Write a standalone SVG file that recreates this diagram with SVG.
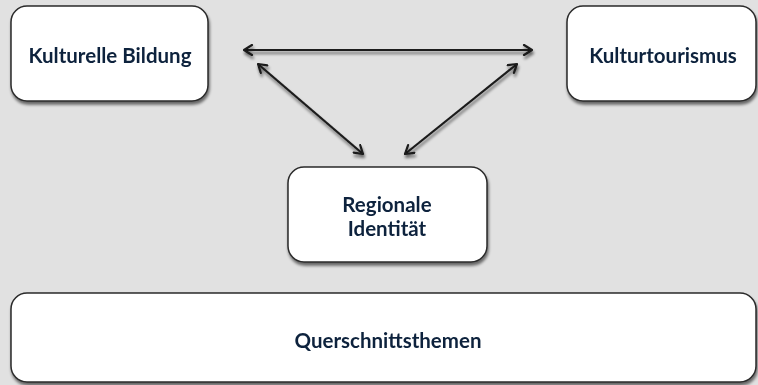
<svg xmlns="http://www.w3.org/2000/svg" width="758" height="385" viewBox="0 0 758 385">
<defs>
<filter id="sh" x="-10%" y="-10%" width="120%" height="130%">
<feGaussianBlur in="SourceAlpha" stdDeviation="1.5"/>
<feOffset dx="1" dy="2.5" result="b"/>
<feComponentTransfer><feFuncA type="linear" slope="0.55"/></feComponentTransfer>
<feMerge><feMergeNode/><feMergeNode in="SourceGraphic"/></feMerge>
</filter>
<marker id="ah" viewBox="0 0 12 12" refX="11" refY="6" markerWidth="12" markerHeight="12" markerUnits="userSpaceOnUse" orient="auto-start-reverse">
<path d="M3,1 L11,6 L3,11" fill="none" stroke="#1a1a1a" stroke-width="2.2" stroke-linecap="round" stroke-linejoin="round"/>
</marker>
</defs>
<style>
.box{fill:#ffffff;stroke:#2a2a2a;stroke-width:1.5}
.lbl{font-family:Lato,"Open Sans","Liberation Sans",sans-serif;font-weight:bold;font-size:20.5px;fill:#0f243e;text-anchor:middle}
.con{stroke:#1a1a1a;stroke-width:2.2;fill:none;marker-start:url(#ah);marker-end:url(#ah)}
</style>
<rect width="758" height="385" fill="#e1e1e1"/>
<g id="kulturelle-bildung" filter="url(#sh)">
<rect class="box" x="11" y="6" width="197" height="95" rx="16"/>
<text class="lbl" x="110" y="63">Kulturelle Bildung</text>
</g>
<g id="kulturtourismus" filter="url(#sh)">
<rect class="box" x="567" y="6" width="189" height="95" rx="16"/>
<text class="lbl" x="663" y="63">Kulturtourismus</text>
</g>
<g id="regionale-identitaet" filter="url(#sh)">
<rect class="box" x="288" y="167" width="199" height="95" rx="16"/>
<text class="lbl" x="387" y="212">Regionale</text>
<text class="lbl" x="387" y="236">Identität</text>
</g>
<g id="querschnittsthemen" filter="url(#sh)">
<rect class="box" x="11" y="293" width="745" height="89" rx="16"/>
<text class="lbl" x="388" y="348">Querschnittsthemen</text>
</g>
<g id="connectors" filter="url(#sh)">
<line class="con" x1="244" y1="50" x2="532" y2="50"/>
<line class="con" x1="258" y1="64" x2="363" y2="154"/>
<line class="con" x1="517" y1="64" x2="405" y2="154"/>
</g>
</svg>
